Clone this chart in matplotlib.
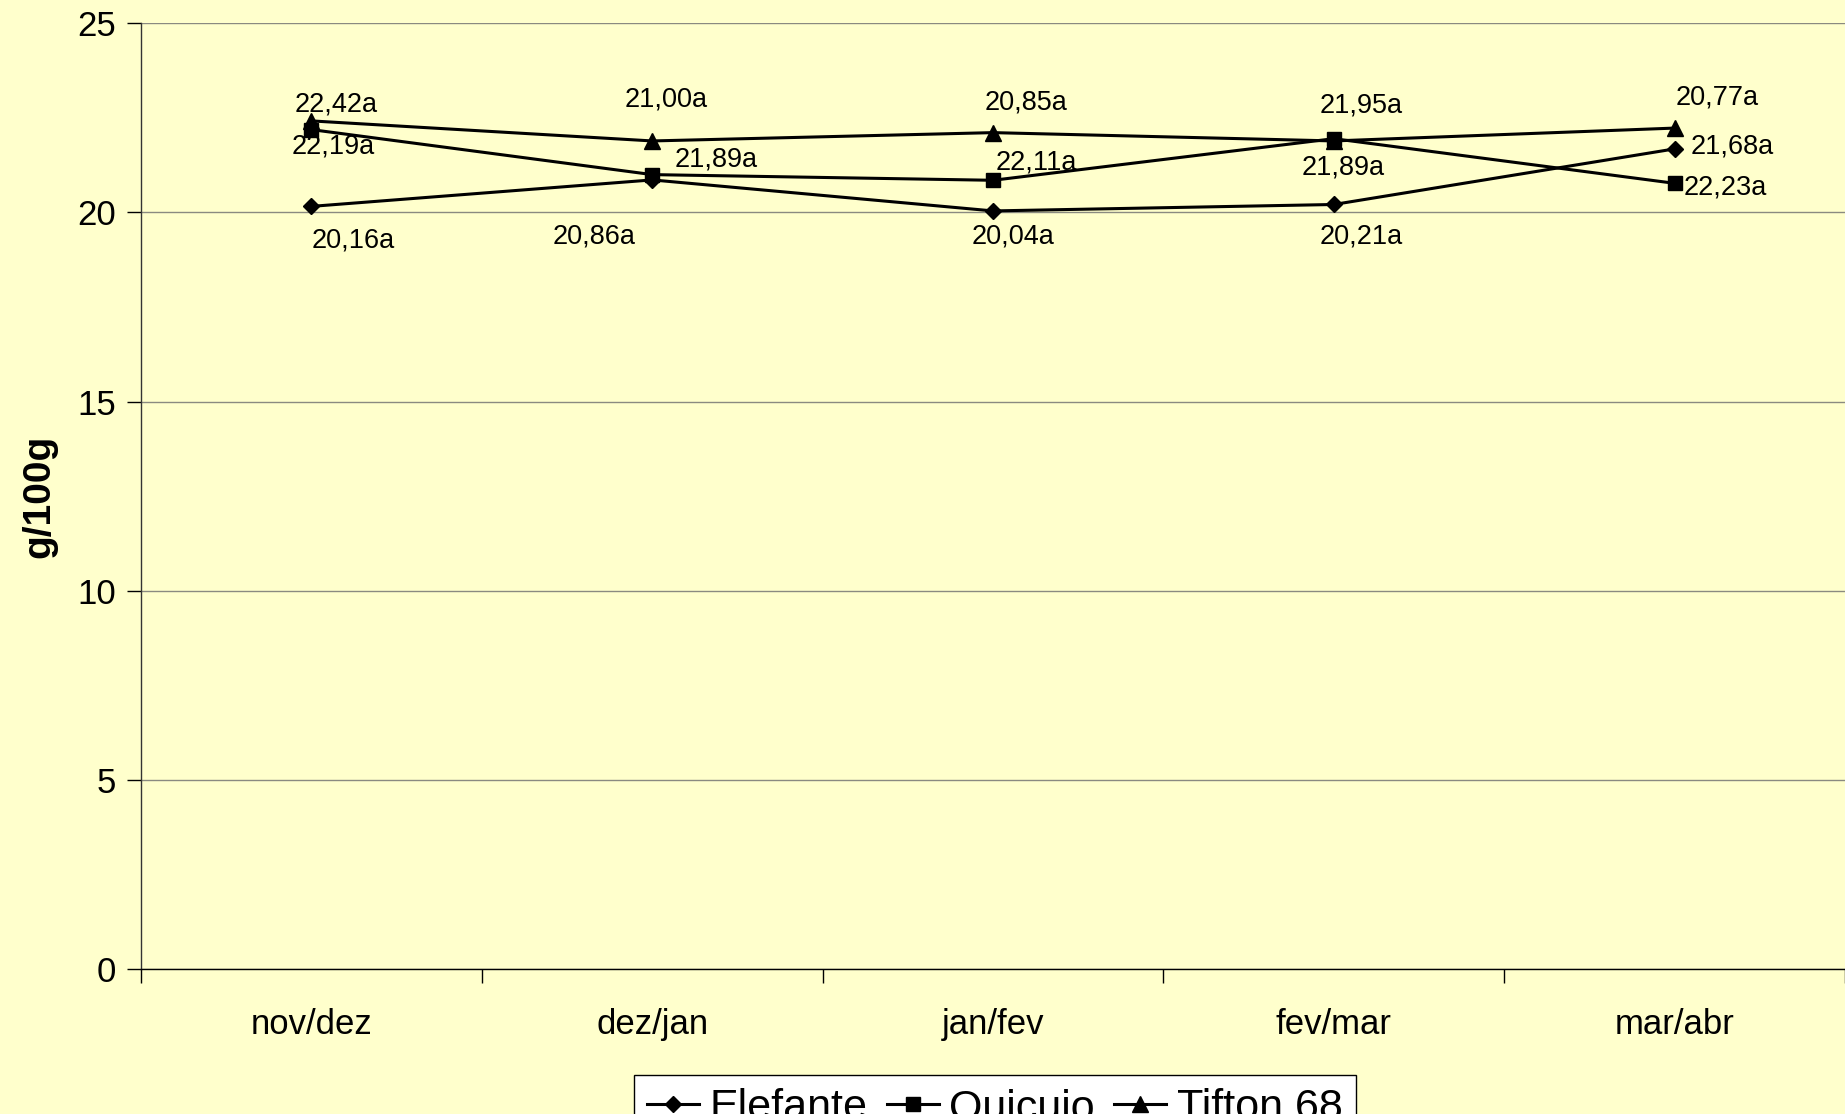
import matplotlib
matplotlib.use("Agg")
import matplotlib.pyplot as plt

plt.rcParams['font.family'] = ['Liberation Sans', 'DejaVu Sans']

# Periods and series values (g/100g)
periods = ["nov/dez", "dez/jan", "jan/fev", "fev/mar", "mar/abr"]
elefante = [20.16, 20.86, 20.04, 20.21, 21.68]
quicuio = [22.19, 21.00, 20.85, 21.95, 20.77]
tifton = [22.42, 21.89, 22.11, 21.89, 22.23]
letters = ["a", "a", "a", "a", "a"]

series = {"Elefante": elefante, "Quicuio": quicuio, "Tifton 68": tifton}
markers = {"Elefante": "D", "Quicuio": "s", "Tifton 68": "^"}
msizes = {"Elefante": 8.5, "Quicuio": 10, "Tifton 68": 11}

# Label placement: (series giving the value, point index, series whose mark anchors the text, dx px, dy px)
label_layout = [
    ("Tifton 68", 0, "Tifton 68", 25, 16),
    ("Quicuio", 0, "Quicuio", 22, -17),
    ("Elefante", 0, "Elefante", 42, -34),
    ("Quicuio", 1, "Tifton 68", 14, 41),
    ("Tifton 68", 1, "Quicuio", 64, 15),
    ("Elefante", 1, "Elefante", -58, -57),
    ("Quicuio", 2, "Tifton 68", 33, 30),
    ("Tifton 68", 2, "Quicuio", 43, 18),
    ("Elefante", 2, "Elefante", 20, -26),
    ("Quicuio", 3, "Quicuio", 27, 33),
    ("Tifton 68", 3, "Tifton 68", 9, -27),
    ("Elefante", 3, "Elefante", 27, -32),
    ("Quicuio", 4, "Tifton 68", 43, 31),
    ("Tifton 68", 4, "Quicuio", 51, -4),
    ("Elefante", 4, "Elefante", 58, 2),
]

bg = "#FFFFCC"
fig = plt.figure(figsize=(18.45, 11.14), dpi=100, facecolor=bg)
ax = fig.add_axes([141 / 1845, 1 - 969 / 1114, 1 - 141 / 1845, (969 - 23.3) / 1114])
ax.set_facecolor(bg)

x = list(range(len(periods)))
for name, vals in series.items():
    ax.plot(x, vals, color="black", lw=2.2, marker=markers[name],
            ms=msizes[name], mfc="black", mec="black", label=name, zorder=3)

for src, i, anchor, dx, dy in label_layout:
    v = series[src][i]
    txt = f"{v:.2f}".replace(".", ",") + letters[i]
    ax.annotate(txt, xy=(i, series[anchor][i]), xytext=(dx, dy),
                textcoords="offset pixels", ha="center", va="center",
                fontsize=19.5, color="black", zorder=4)

ax.set_xlim(-0.5, 4.5)
ax.set_ylim(0, 25)
ax.set_yticks([0, 5, 10, 15, 20, 25])
ax.yaxis.grid(True, color="#8a8a80", lw=1.0)
ax.set_axisbelow(True)
ax.set_xticks(x)
ax.set_xticklabels(periods, fontsize=25)
ax.set_xticks([i - 0.5 for i in range(len(periods) + 1)], minor=True)
ax.tick_params(axis="x", which="major", length=0, pad=28)
ax.tick_params(axis="x", which="minor", length=10, width=1, color="black", direction="out")
ax.tick_params(axis="y", length=10, width=1, color="black", labelsize=25, pad=8)
for s in ["top", "right"]:
    ax.spines[s].set_visible(False)
ax.spines["left"].set_color("#333333")
ax.spines["bottom"].set_color("black")
ax.spines["left"].set_linewidth(1)
ax.spines["bottom"].set_linewidth(1)

ax.set_ylabel("g/100g", fontsize=28, fontweight="bold", labelpad=14)

leg = fig.legend(loc="upper center", bbox_to_anchor=(995 / 1845, 1 - 1075 / 1114),
                 ncol=3, fontsize=31, frameon=True, fancybox=False,
                 edgecolor="black", facecolor="white", framealpha=1,
                 handlelength=1.2, handletextpad=0.25, columnspacing=0.45,
                 borderpad=0.3, borderaxespad=0)
leg.get_frame().set_linewidth(1)

fig.savefig("out.png", dpi=100, facecolor=bg)
